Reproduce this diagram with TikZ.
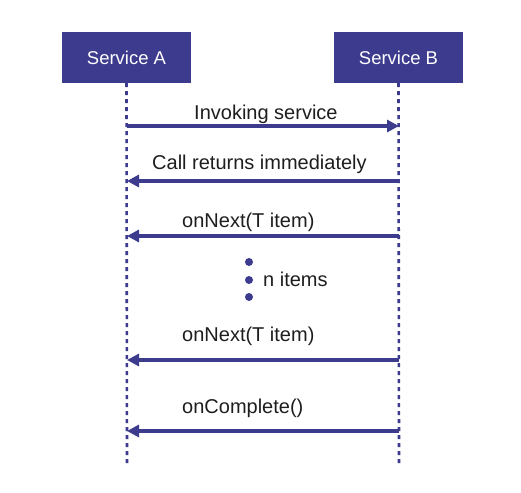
\documentclass[tikz,border=0pt]{standalone}
\usepackage{fontspec}
\setmainfont{Liberation Sans}
\usepackage{tikz}
\usetikzlibrary{arrows.meta}
\definecolor{svcblue}{HTML}{3D3B8E}
\definecolor{msgtext}{HTML}{1E1E1E}
\tikzset{
  svcbox/.style={rectangle,fill=svcblue,text=white,minimum width=129pt,minimum height=51pt,inner sep=0pt,font=\fontsize{18.5}{22}\selectfont},
  lifeline/.style={draw=svcblue,line width=2.6pt,dash pattern=on 4pt off 4pt},
  msgline/.style={draw=svcblue,line width=3.6pt,-{Triangle[length=12pt,width=12pt]}},
  msglabel/.style={anchor=base west,text=msgtext,inner sep=0pt,font=\fontsize{20}{24}\selectfont},
  itemdot/.style={circle,fill=svcblue,inner sep=0pt,minimum size=8pt},
}

\begin{document}
\begin{tikzpicture}[x=1pt,y=-1pt]
  \useasboundingbox[fill=white] (0,0) rectangle (521,492);

  % services
  \node[svcbox] (svcA) at (126.5,57.5) {Service A};
  \node[svcbox] (svcB) at (398.5,57.5) {Service B};
  % lifelines
  \coordinate (endA) at (127,463);
  \coordinate (endB) at (399,463);
  \draw[lifeline] (svcA.south) -- (endA);
  \draw[lifeline] (svcB.south) -- (endB);
  % message anchors on the lifelines
  \foreach \i/\y in {1/126, 2/181, 3/236, 4/360, 5/431}
    {\coordinate (A\i) at (127,\y); \coordinate (B\i) at (399,\y);}
  % messages
  \draw[msgline] (A1) -- (B1);
  \draw[msgline] (B2) -- (A2);
  \draw[msgline] (B3) -- (A3);
  \draw[msgline] (B4) -- (A4);
  \draw[msgline] (B5) -- (A5);
  \node[msglabel] (lblInvoke) at (194,119) {Invoking service};
  \node[msglabel] (lblReturn) at (152,169) {Call returns immediately};
  \node[msglabel] (lblNextA) at (182,227) {onNext(T item)};
  \node[msglabel] (lblNextB) at (182,341) {onNext(T item)};
  \node[msglabel] (lblDone) at (182,413) {onComplete()};
  % n items
  \foreach \d/\y in {1/262, 2/280, 3/297}
    {\node[itemdot] (dot\d) at (249,\y) {};}
  \node[msglabel] (lblItems) at (263,286) {n items};
\end{tikzpicture}
\end{document}
